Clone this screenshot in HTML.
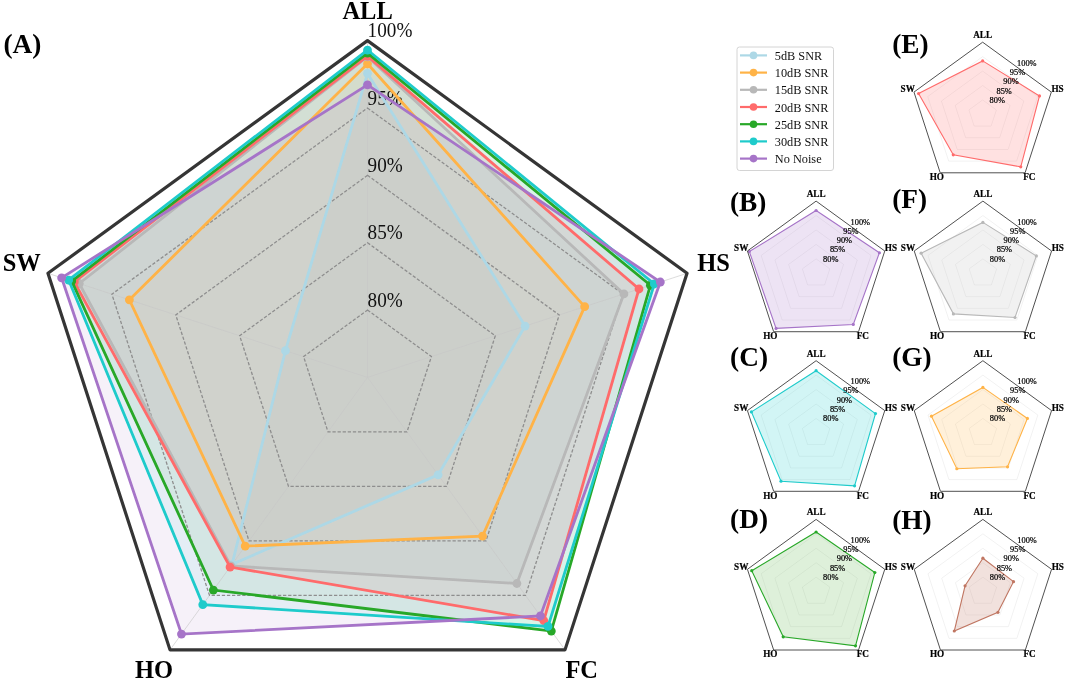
<!DOCTYPE html><html><head><meta charset="utf-8"><style>html,body{margin:0;padding:0;background:#fff;}body{width:1065px;height:681px;overflow:hidden;}svg{display:block;will-change:transform;}text{font-family:"Liberation Serif",serif;}</style></head><body>
<svg width="1065" height="681" viewBox="0 0 1065 681">
<polygon points="367.50,73.47 525.10,326.07 438.12,474.84 232.02,564.32 285.44,350.67" fill="#add8e6" fill-opacity="0.070" stroke="none"/>
<polygon points="367.50,63.77 584.67,306.67 482.52,536.09 245.21,546.12 129.37,299.84" fill="#ffb347" fill-opacity="0.070" stroke="none"/>
<polygon points="367.50,56.77 623.91,293.89 516.89,583.50 230.83,565.95 79.26,283.52" fill="#b8b8b8" fill-opacity="0.100" stroke="none"/>
<polygon points="367.50,56.09 638.99,288.98 543.75,620.56 230.04,567.04 74.28,281.90" fill="#ff6b6b" fill-opacity="0.120" stroke="none"/>
<polygon points="367.50,53.13 650.37,285.27 551.33,631.02 213.37,590.04 71.72,281.07" fill="#28a828" fill-opacity="0.095" stroke="none"/>
<polygon points="367.50,50.03 654.33,283.98 548.01,626.44 202.79,604.65 68.65,280.07" fill="#1ecbcb" fill-opacity="0.090" stroke="none"/>
<polygon points="367.50,84.92 660.34,282.02 540.43,615.98 181.46,634.07 61.62,277.78" fill="#a674c8" fill-opacity="0.100" stroke="none"/>
<line x1="367.50" y1="377.40" x2="367.50" y2="40.60" stroke="#c8c8c8" stroke-opacity="0.7" stroke-width="0.9"/>
<line x1="367.50" y1="377.40" x2="687.05" y2="273.32" stroke="#c8c8c8" stroke-opacity="0.7" stroke-width="0.9"/>
<line x1="367.50" y1="377.40" x2="565.00" y2="649.88" stroke="#c8c8c8" stroke-opacity="0.7" stroke-width="0.9"/>
<line x1="367.50" y1="377.40" x2="170.00" y2="649.88" stroke="#c8c8c8" stroke-opacity="0.7" stroke-width="0.9"/>
<line x1="367.50" y1="377.40" x2="47.95" y2="273.32" stroke="#c8c8c8" stroke-opacity="0.7" stroke-width="0.9"/>
<polygon points="367.50,310.04 431.41,356.58 407.00,431.90 328.00,431.90 303.59,356.58" fill="none" stroke="#8e8e8e" stroke-width="1.3" stroke-dasharray="3.3 1.8"/>
<polygon points="367.50,242.68 495.32,335.77 446.50,486.39 288.50,486.39 239.68,335.77" fill="none" stroke="#8e8e8e" stroke-width="1.3" stroke-dasharray="3.3 1.8"/>
<polygon points="367.50,175.32 559.23,314.95 486.00,540.89 249.00,540.89 175.77,314.95" fill="none" stroke="#8e8e8e" stroke-width="1.3" stroke-dasharray="3.3 1.8"/>
<polygon points="367.50,107.96 623.14,294.14 525.50,595.38 209.50,595.38 111.86,294.14" fill="none" stroke="#8e8e8e" stroke-width="1.3" stroke-dasharray="3.3 1.8"/>
<text transform="translate(367.60,306.64) scale(1,1.065)" font-size="19.20" text-anchor="start" fill="#111">80%</text>
<text transform="translate(367.60,239.28) scale(1,1.065)" font-size="19.20" text-anchor="start" fill="#111">85%</text>
<text transform="translate(367.60,171.92) scale(1,1.065)" font-size="19.20" text-anchor="start" fill="#111">90%</text>
<text transform="translate(367.60,104.56) scale(1,1.065)" font-size="19.20" text-anchor="start" fill="#111">95%</text>
<text transform="translate(367.60,37.20) scale(1,1.065)" font-size="19.20" text-anchor="start" fill="#111">100%</text>
<polygon points="367.50,73.47 525.10,326.07 438.12,474.84 232.02,564.32 285.44,350.67" fill="none" stroke="#add8e6" stroke-width="2.8" stroke-linejoin="miter"/>
<circle cx="367.50" cy="73.47" r="4.4" fill="#add8e6"/>
<circle cx="525.10" cy="326.07" r="4.4" fill="#add8e6"/>
<circle cx="438.12" cy="474.84" r="4.4" fill="#add8e6"/>
<circle cx="232.02" cy="564.32" r="4.4" fill="#add8e6"/>
<circle cx="285.44" cy="350.67" r="4.4" fill="#add8e6"/>
<polygon points="367.50,63.77 584.67,306.67 482.52,536.09 245.21,546.12 129.37,299.84" fill="none" stroke="#ffb347" stroke-width="2.8" stroke-linejoin="miter"/>
<circle cx="367.50" cy="63.77" r="4.4" fill="#ffb347"/>
<circle cx="584.67" cy="306.67" r="4.4" fill="#ffb347"/>
<circle cx="482.52" cy="536.09" r="4.4" fill="#ffb347"/>
<circle cx="245.21" cy="546.12" r="4.4" fill="#ffb347"/>
<circle cx="129.37" cy="299.84" r="4.4" fill="#ffb347"/>
<polygon points="367.50,56.77 623.91,293.89 516.89,583.50 230.83,565.95 79.26,283.52" fill="none" stroke="#b8b8b8" stroke-width="2.8" stroke-linejoin="miter"/>
<circle cx="367.50" cy="56.77" r="4.4" fill="#b8b8b8"/>
<circle cx="623.91" cy="293.89" r="4.4" fill="#b8b8b8"/>
<circle cx="516.89" cy="583.50" r="4.4" fill="#b8b8b8"/>
<circle cx="230.83" cy="565.95" r="4.4" fill="#b8b8b8"/>
<circle cx="79.26" cy="283.52" r="4.4" fill="#b8b8b8"/>
<polygon points="367.50,56.09 638.99,288.98 543.75,620.56 230.04,567.04 74.28,281.90" fill="none" stroke="#ff6b6b" stroke-width="2.8" stroke-linejoin="miter"/>
<circle cx="367.50" cy="56.09" r="4.4" fill="#ff6b6b"/>
<circle cx="638.99" cy="288.98" r="4.4" fill="#ff6b6b"/>
<circle cx="543.75" cy="620.56" r="4.4" fill="#ff6b6b"/>
<circle cx="230.04" cy="567.04" r="4.4" fill="#ff6b6b"/>
<circle cx="74.28" cy="281.90" r="4.4" fill="#ff6b6b"/>
<polygon points="367.50,53.13 650.37,285.27 551.33,631.02 213.37,590.04 71.72,281.07" fill="none" stroke="#28a828" stroke-width="2.8" stroke-linejoin="miter"/>
<circle cx="367.50" cy="53.13" r="4.4" fill="#28a828"/>
<circle cx="650.37" cy="285.27" r="4.4" fill="#28a828"/>
<circle cx="551.33" cy="631.02" r="4.4" fill="#28a828"/>
<circle cx="213.37" cy="590.04" r="4.4" fill="#28a828"/>
<circle cx="71.72" cy="281.07" r="4.4" fill="#28a828"/>
<polygon points="367.50,50.03 654.33,283.98 548.01,626.44 202.79,604.65 68.65,280.07" fill="none" stroke="#1ecbcb" stroke-width="2.8" stroke-linejoin="miter"/>
<circle cx="367.50" cy="50.03" r="4.4" fill="#1ecbcb"/>
<circle cx="654.33" cy="283.98" r="4.4" fill="#1ecbcb"/>
<circle cx="548.01" cy="626.44" r="4.4" fill="#1ecbcb"/>
<circle cx="202.79" cy="604.65" r="4.4" fill="#1ecbcb"/>
<circle cx="68.65" cy="280.07" r="4.4" fill="#1ecbcb"/>
<polygon points="367.50,84.92 660.34,282.02 540.43,615.98 181.46,634.07 61.62,277.78" fill="none" stroke="#a674c8" stroke-width="2.8" stroke-linejoin="miter"/>
<circle cx="367.50" cy="84.92" r="4.4" fill="#a674c8"/>
<circle cx="660.34" cy="282.02" r="4.4" fill="#a674c8"/>
<circle cx="540.43" cy="615.98" r="4.4" fill="#a674c8"/>
<circle cx="181.46" cy="634.07" r="4.4" fill="#a674c8"/>
<circle cx="61.62" cy="277.78" r="4.4" fill="#a674c8"/>
<polygon points="367.50,40.60 687.05,273.32 565.00,649.88 170.00,649.88 47.95,273.32" fill="none" stroke="#353535" stroke-width="3.2" stroke-linejoin="round"/>
<text transform="translate(367.60,18.90) scale(1,1.065)" font-size="24.50" font-weight="bold" text-anchor="middle" fill="#000">ALL</text>
<text transform="translate(713.60,270.60) scale(1,1.065)" font-size="24.50" font-weight="bold" text-anchor="middle" fill="#000">HS</text>
<text transform="translate(581.70,678.00) scale(1,1.065)" font-size="24.50" font-weight="bold" text-anchor="middle" fill="#000">FC</text>
<text transform="translate(154.10,677.80) scale(1,1.065)" font-size="24.50" font-weight="bold" text-anchor="middle" fill="#000">HO</text>
<text transform="translate(21.80,270.60) scale(1,1.065)" font-size="24.50" font-weight="bold" text-anchor="middle" fill="#000">SW</text>
<text transform="translate(3.50,53.20) scale(1,1.000)" font-size="27.30" font-weight="bold" text-anchor="start" fill="#000">(A)</text>
<rect x="737" y="47" width="96.5" height="123.5" rx="2.5" ry="2.5" fill="#fff" stroke="#d4d4d4" stroke-width="1"/>
<line x1="740" y1="55.40" x2="767" y2="55.40" stroke="#add8e6" stroke-width="2.2"/>
<circle cx="753.5" cy="55.40" r="3.8" fill="#add8e6"/>
<text transform="translate(774.80,60.05) scale(1,1.000)" font-size="12.30" text-anchor="start" fill="#111">5dB SNR</text>
<line x1="740" y1="72.60" x2="767" y2="72.60" stroke="#ffb347" stroke-width="2.2"/>
<circle cx="753.5" cy="72.60" r="3.8" fill="#ffb347"/>
<text transform="translate(774.80,77.25) scale(1,1.000)" font-size="12.30" text-anchor="start" fill="#111">10dB SNR</text>
<line x1="740" y1="89.80" x2="767" y2="89.80" stroke="#b8b8b8" stroke-width="2.2"/>
<circle cx="753.5" cy="89.80" r="3.8" fill="#b8b8b8"/>
<text transform="translate(774.80,94.45) scale(1,1.000)" font-size="12.30" text-anchor="start" fill="#111">15dB SNR</text>
<line x1="740" y1="107.00" x2="767" y2="107.00" stroke="#ff6b6b" stroke-width="2.2"/>
<circle cx="753.5" cy="107.00" r="3.8" fill="#ff6b6b"/>
<text transform="translate(774.80,111.65) scale(1,1.000)" font-size="12.30" text-anchor="start" fill="#111">20dB SNR</text>
<line x1="740" y1="124.20" x2="767" y2="124.20" stroke="#28a828" stroke-width="2.2"/>
<circle cx="753.5" cy="124.20" r="3.8" fill="#28a828"/>
<text transform="translate(774.80,128.85) scale(1,1.000)" font-size="12.30" text-anchor="start" fill="#111">25dB SNR</text>
<line x1="740" y1="141.40" x2="767" y2="141.40" stroke="#1ecbcb" stroke-width="2.2"/>
<circle cx="753.5" cy="141.40" r="3.8" fill="#1ecbcb"/>
<text transform="translate(774.80,146.05) scale(1,1.000)" font-size="12.30" text-anchor="start" fill="#111">30dB SNR</text>
<line x1="740" y1="158.60" x2="767" y2="158.60" stroke="#a674c8" stroke-width="2.2"/>
<circle cx="753.5" cy="158.60" r="3.8" fill="#a674c8"/>
<text transform="translate(774.80,163.25) scale(1,1.000)" font-size="12.30" text-anchor="start" fill="#111">No Noise</text>
<polygon points="982.65,99.96 996.38,109.94 991.14,126.08 974.16,126.08 968.92,109.94" fill="none" stroke="#000" stroke-opacity="0.07" stroke-width="0.8"/>
<polygon points="982.65,85.52 1010.12,105.48 999.63,137.76 965.67,137.76 955.18,105.48" fill="none" stroke="#000" stroke-opacity="0.07" stroke-width="0.8"/>
<polygon points="982.65,71.08 1023.85,101.01 1008.11,149.45 957.19,149.45 941.45,101.01" fill="none" stroke="#000" stroke-opacity="0.07" stroke-width="0.8"/>
<polygon points="982.65,56.64 1037.58,96.55 1016.60,161.13 948.70,161.13 927.72,96.55" fill="none" stroke="#000" stroke-opacity="0.07" stroke-width="0.8"/>
<polygon points="982.65,60.90 1039.47,95.94 1020.76,166.86 953.26,154.85 918.58,93.58" fill="#ff6b6b" fill-opacity="0.20" stroke="#ff6b6b" stroke-width="1.1"/>
<circle cx="982.65" cy="60.90" r="1.6" fill="#ff6b6b"/>
<circle cx="1039.47" cy="95.94" r="1.6" fill="#ff6b6b"/>
<circle cx="1020.76" cy="166.86" r="1.6" fill="#ff6b6b"/>
<circle cx="953.26" cy="154.85" r="1.6" fill="#ff6b6b"/>
<circle cx="918.58" cy="93.58" r="1.6" fill="#ff6b6b"/>
<polygon points="982.65,42.20 1051.32,92.09 1025.09,172.81 940.21,172.81 913.98,92.09" fill="none" stroke="#505050" stroke-width="1"/>
<text transform="translate(1017.05,65.70) scale(1,1.065)" font-size="8.40" text-anchor="start" fill="#000" stroke="#000" stroke-width="0.22">100%</text>
<text transform="translate(1009.75,74.80) scale(1,1.065)" font-size="8.40" text-anchor="start" fill="#000" stroke="#000" stroke-width="0.22">95%</text>
<text transform="translate(1003.25,84.20) scale(1,1.065)" font-size="8.40" text-anchor="start" fill="#000" stroke="#000" stroke-width="0.22">90%</text>
<text transform="translate(996.45,93.50) scale(1,1.065)" font-size="8.40" text-anchor="start" fill="#000" stroke="#000" stroke-width="0.22">85%</text>
<text transform="translate(989.55,102.60) scale(1,1.065)" font-size="8.40" text-anchor="start" fill="#000" stroke="#000" stroke-width="0.22">80%</text>
<text transform="translate(982.65,38.20) scale(1,1.065)" font-size="9.20" font-weight="bold" text-anchor="middle" fill="#000" stroke="#000" stroke-width="0.20">ALL</text>
<text transform="translate(1057.55,92.30) scale(1,1.065)" font-size="9.20" font-weight="bold" text-anchor="middle" fill="#000" stroke="#000" stroke-width="0.20">HS</text>
<text transform="translate(1029.35,180.20) scale(1,1.065)" font-size="9.20" font-weight="bold" text-anchor="middle" fill="#000" stroke="#000" stroke-width="0.20">FC</text>
<text transform="translate(936.85,180.20) scale(1,1.065)" font-size="9.20" font-weight="bold" text-anchor="middle" fill="#000" stroke="#000" stroke-width="0.20">HO</text>
<text transform="translate(907.75,92.30) scale(1,1.065)" font-size="9.20" font-weight="bold" text-anchor="middle" fill="#000" stroke="#000" stroke-width="0.20">SW</text>
<text transform="translate(892.20,52.50) scale(1,1.000)" font-size="27.30" font-weight="bold" text-anchor="start" fill="#000">(E)</text>
<polygon points="816.10,258.86 829.83,268.84 824.59,284.98 807.61,284.98 802.37,268.84" fill="none" stroke="#000" stroke-opacity="0.07" stroke-width="0.8"/>
<polygon points="816.10,244.42 843.57,264.38 833.08,296.66 799.12,296.66 788.63,264.38" fill="none" stroke="#000" stroke-opacity="0.07" stroke-width="0.8"/>
<polygon points="816.10,229.98 857.30,259.91 841.56,308.35 790.64,308.35 774.90,259.91" fill="none" stroke="#000" stroke-opacity="0.07" stroke-width="0.8"/>
<polygon points="816.10,215.54 871.03,255.45 850.05,320.03 782.15,320.03 761.17,255.45" fill="none" stroke="#000" stroke-opacity="0.07" stroke-width="0.8"/>
<polygon points="816.10,210.50 879.41,252.73 853.27,324.46 776.07,328.40 749.34,251.61" fill="#a674c8" fill-opacity="0.20" stroke="#a674c8" stroke-width="1.1"/>
<circle cx="816.10" cy="210.50" r="1.6" fill="#a674c8"/>
<circle cx="879.41" cy="252.73" r="1.6" fill="#a674c8"/>
<circle cx="853.27" cy="324.46" r="1.6" fill="#a674c8"/>
<circle cx="776.07" cy="328.40" r="1.6" fill="#a674c8"/>
<circle cx="749.34" cy="251.61" r="1.6" fill="#a674c8"/>
<polygon points="816.10,201.10 884.77,250.99 858.54,331.71 773.66,331.71 747.43,250.99" fill="none" stroke="#505050" stroke-width="1"/>
<text transform="translate(850.50,224.60) scale(1,1.065)" font-size="8.40" text-anchor="start" fill="#000" stroke="#000" stroke-width="0.22">100%</text>
<text transform="translate(843.20,233.70) scale(1,1.065)" font-size="8.40" text-anchor="start" fill="#000" stroke="#000" stroke-width="0.22">95%</text>
<text transform="translate(836.70,243.10) scale(1,1.065)" font-size="8.40" text-anchor="start" fill="#000" stroke="#000" stroke-width="0.22">90%</text>
<text transform="translate(829.90,252.40) scale(1,1.065)" font-size="8.40" text-anchor="start" fill="#000" stroke="#000" stroke-width="0.22">85%</text>
<text transform="translate(823.00,261.50) scale(1,1.065)" font-size="8.40" text-anchor="start" fill="#000" stroke="#000" stroke-width="0.22">80%</text>
<text transform="translate(816.10,197.10) scale(1,1.065)" font-size="9.20" font-weight="bold" text-anchor="middle" fill="#000" stroke="#000" stroke-width="0.20">ALL</text>
<text transform="translate(891.00,251.20) scale(1,1.065)" font-size="9.20" font-weight="bold" text-anchor="middle" fill="#000" stroke="#000" stroke-width="0.20">HS</text>
<text transform="translate(862.80,339.10) scale(1,1.065)" font-size="9.20" font-weight="bold" text-anchor="middle" fill="#000" stroke="#000" stroke-width="0.20">FC</text>
<text transform="translate(770.30,339.10) scale(1,1.065)" font-size="9.20" font-weight="bold" text-anchor="middle" fill="#000" stroke="#000" stroke-width="0.20">HO</text>
<text transform="translate(741.20,251.20) scale(1,1.065)" font-size="9.20" font-weight="bold" text-anchor="middle" fill="#000" stroke="#000" stroke-width="0.20">SW</text>
<text transform="translate(729.90,210.80) scale(1,1.000)" font-size="27.30" font-weight="bold" text-anchor="start" fill="#000">(B)</text>
<polygon points="982.90,258.86 996.63,268.84 991.39,284.98 974.41,284.98 969.17,268.84" fill="none" stroke="#000" stroke-opacity="0.07" stroke-width="0.8"/>
<polygon points="982.90,244.42 1010.37,264.38 999.88,296.66 965.92,296.66 955.43,264.38" fill="none" stroke="#000" stroke-opacity="0.07" stroke-width="0.8"/>
<polygon points="982.90,229.98 1024.10,259.91 1008.36,308.35 957.44,308.35 941.70,259.91" fill="none" stroke="#000" stroke-opacity="0.07" stroke-width="0.8"/>
<polygon points="982.90,215.54 1037.83,255.45 1016.85,320.03 948.95,320.03 927.97,255.45" fill="none" stroke="#000" stroke-opacity="0.07" stroke-width="0.8"/>
<polygon points="982.90,222.40 1036.34,255.94 1015.02,317.51 953.42,313.88 921.10,253.22" fill="#b8b8b8" fill-opacity="0.20" stroke="#b8b8b8" stroke-width="1.1"/>
<circle cx="982.90" cy="222.40" r="1.6" fill="#b8b8b8"/>
<circle cx="1036.34" cy="255.94" r="1.6" fill="#b8b8b8"/>
<circle cx="1015.02" cy="317.51" r="1.6" fill="#b8b8b8"/>
<circle cx="953.42" cy="313.88" r="1.6" fill="#b8b8b8"/>
<circle cx="921.10" cy="253.22" r="1.6" fill="#b8b8b8"/>
<polygon points="982.90,201.10 1051.57,250.99 1025.34,331.71 940.46,331.71 914.23,250.99" fill="none" stroke="#505050" stroke-width="1"/>
<text transform="translate(1017.30,224.60) scale(1,1.065)" font-size="8.40" text-anchor="start" fill="#000" stroke="#000" stroke-width="0.22">100%</text>
<text transform="translate(1010.00,233.70) scale(1,1.065)" font-size="8.40" text-anchor="start" fill="#000" stroke="#000" stroke-width="0.22">95%</text>
<text transform="translate(1003.50,243.10) scale(1,1.065)" font-size="8.40" text-anchor="start" fill="#000" stroke="#000" stroke-width="0.22">90%</text>
<text transform="translate(996.70,252.40) scale(1,1.065)" font-size="8.40" text-anchor="start" fill="#000" stroke="#000" stroke-width="0.22">85%</text>
<text transform="translate(989.80,261.50) scale(1,1.065)" font-size="8.40" text-anchor="start" fill="#000" stroke="#000" stroke-width="0.22">80%</text>
<text transform="translate(982.90,197.10) scale(1,1.065)" font-size="9.20" font-weight="bold" text-anchor="middle" fill="#000" stroke="#000" stroke-width="0.20">ALL</text>
<text transform="translate(1057.80,251.20) scale(1,1.065)" font-size="9.20" font-weight="bold" text-anchor="middle" fill="#000" stroke="#000" stroke-width="0.20">HS</text>
<text transform="translate(1029.60,339.10) scale(1,1.065)" font-size="9.20" font-weight="bold" text-anchor="middle" fill="#000" stroke="#000" stroke-width="0.20">FC</text>
<text transform="translate(937.10,339.10) scale(1,1.065)" font-size="9.20" font-weight="bold" text-anchor="middle" fill="#000" stroke="#000" stroke-width="0.20">HO</text>
<text transform="translate(908.00,251.20) scale(1,1.065)" font-size="9.20" font-weight="bold" text-anchor="middle" fill="#000" stroke="#000" stroke-width="0.20">SW</text>
<text transform="translate(892.20,207.70) scale(1,1.000)" font-size="27.30" font-weight="bold" text-anchor="start" fill="#000">(F)</text>
<polygon points="816.10,418.46 829.83,428.44 824.59,444.58 807.61,444.58 802.37,428.44" fill="none" stroke="#000" stroke-opacity="0.07" stroke-width="0.8"/>
<polygon points="816.10,404.02 843.57,423.98 833.08,456.26 799.12,456.26 788.63,423.98" fill="none" stroke="#000" stroke-opacity="0.07" stroke-width="0.8"/>
<polygon points="816.10,389.58 857.30,419.51 841.56,467.95 790.64,467.95 774.90,419.51" fill="none" stroke="#000" stroke-opacity="0.07" stroke-width="0.8"/>
<polygon points="816.10,375.14 871.03,415.05 850.05,479.63 782.15,479.63 761.17,415.05" fill="none" stroke="#000" stroke-opacity="0.07" stroke-width="0.8"/>
<polygon points="816.10,370.70 875.47,413.61 854.56,485.84 781.00,481.22 751.44,411.89" fill="#1ecbcb" fill-opacity="0.20" stroke="#1ecbcb" stroke-width="1.1"/>
<circle cx="816.10" cy="370.70" r="1.6" fill="#1ecbcb"/>
<circle cx="875.47" cy="413.61" r="1.6" fill="#1ecbcb"/>
<circle cx="854.56" cy="485.84" r="1.6" fill="#1ecbcb"/>
<circle cx="781.00" cy="481.22" r="1.6" fill="#1ecbcb"/>
<circle cx="751.44" cy="411.89" r="1.6" fill="#1ecbcb"/>
<polygon points="816.10,360.70 884.77,410.59 858.54,491.31 773.66,491.31 747.43,410.59" fill="none" stroke="#505050" stroke-width="1"/>
<text transform="translate(850.50,384.20) scale(1,1.065)" font-size="8.40" text-anchor="start" fill="#000" stroke="#000" stroke-width="0.22">100%</text>
<text transform="translate(843.20,393.30) scale(1,1.065)" font-size="8.40" text-anchor="start" fill="#000" stroke="#000" stroke-width="0.22">95%</text>
<text transform="translate(836.70,402.70) scale(1,1.065)" font-size="8.40" text-anchor="start" fill="#000" stroke="#000" stroke-width="0.22">90%</text>
<text transform="translate(829.90,412.00) scale(1,1.065)" font-size="8.40" text-anchor="start" fill="#000" stroke="#000" stroke-width="0.22">85%</text>
<text transform="translate(823.00,421.10) scale(1,1.065)" font-size="8.40" text-anchor="start" fill="#000" stroke="#000" stroke-width="0.22">80%</text>
<text transform="translate(816.10,356.70) scale(1,1.065)" font-size="9.20" font-weight="bold" text-anchor="middle" fill="#000" stroke="#000" stroke-width="0.20">ALL</text>
<text transform="translate(891.00,410.80) scale(1,1.065)" font-size="9.20" font-weight="bold" text-anchor="middle" fill="#000" stroke="#000" stroke-width="0.20">HS</text>
<text transform="translate(862.80,498.70) scale(1,1.065)" font-size="9.20" font-weight="bold" text-anchor="middle" fill="#000" stroke="#000" stroke-width="0.20">FC</text>
<text transform="translate(770.30,498.70) scale(1,1.065)" font-size="9.20" font-weight="bold" text-anchor="middle" fill="#000" stroke="#000" stroke-width="0.20">HO</text>
<text transform="translate(741.20,410.80) scale(1,1.065)" font-size="9.20" font-weight="bold" text-anchor="middle" fill="#000" stroke="#000" stroke-width="0.20">SW</text>
<text transform="translate(730.10,366.40) scale(1,1.000)" font-size="27.30" font-weight="bold" text-anchor="start" fill="#000">(C)</text>
<polygon points="982.90,418.46 996.63,428.44 991.39,444.58 974.41,444.58 969.17,428.44" fill="none" stroke="#000" stroke-opacity="0.07" stroke-width="0.8"/>
<polygon points="982.90,404.02 1010.37,423.98 999.88,456.26 965.92,456.26 955.43,423.98" fill="none" stroke="#000" stroke-opacity="0.07" stroke-width="0.8"/>
<polygon points="982.90,389.58 1024.10,419.51 1008.36,467.95 957.44,467.95 941.70,419.51" fill="none" stroke="#000" stroke-opacity="0.07" stroke-width="0.8"/>
<polygon points="982.90,375.14 1037.83,415.05 1016.85,479.63 948.95,479.63 927.97,415.05" fill="none" stroke="#000" stroke-opacity="0.07" stroke-width="0.8"/>
<polygon points="982.90,387.40 1027.41,418.44 1007.53,466.80 956.84,468.77 931.45,416.18" fill="#ffb347" fill-opacity="0.20" stroke="#ffb347" stroke-width="1.1"/>
<circle cx="982.90" cy="387.40" r="1.6" fill="#ffb347"/>
<circle cx="1027.41" cy="418.44" r="1.6" fill="#ffb347"/>
<circle cx="1007.53" cy="466.80" r="1.6" fill="#ffb347"/>
<circle cx="956.84" cy="468.77" r="1.6" fill="#ffb347"/>
<circle cx="931.45" cy="416.18" r="1.6" fill="#ffb347"/>
<polygon points="982.90,360.70 1051.57,410.59 1025.34,491.31 940.46,491.31 914.23,410.59" fill="none" stroke="#505050" stroke-width="1"/>
<text transform="translate(1017.30,384.20) scale(1,1.065)" font-size="8.40" text-anchor="start" fill="#000" stroke="#000" stroke-width="0.22">100%</text>
<text transform="translate(1010.00,393.30) scale(1,1.065)" font-size="8.40" text-anchor="start" fill="#000" stroke="#000" stroke-width="0.22">95%</text>
<text transform="translate(1003.50,402.70) scale(1,1.065)" font-size="8.40" text-anchor="start" fill="#000" stroke="#000" stroke-width="0.22">90%</text>
<text transform="translate(996.70,412.00) scale(1,1.065)" font-size="8.40" text-anchor="start" fill="#000" stroke="#000" stroke-width="0.22">85%</text>
<text transform="translate(989.80,421.10) scale(1,1.065)" font-size="8.40" text-anchor="start" fill="#000" stroke="#000" stroke-width="0.22">80%</text>
<text transform="translate(982.90,356.70) scale(1,1.065)" font-size="9.20" font-weight="bold" text-anchor="middle" fill="#000" stroke="#000" stroke-width="0.20">ALL</text>
<text transform="translate(1057.80,410.80) scale(1,1.065)" font-size="9.20" font-weight="bold" text-anchor="middle" fill="#000" stroke="#000" stroke-width="0.20">HS</text>
<text transform="translate(1029.60,498.70) scale(1,1.065)" font-size="9.20" font-weight="bold" text-anchor="middle" fill="#000" stroke="#000" stroke-width="0.20">FC</text>
<text transform="translate(937.10,498.70) scale(1,1.065)" font-size="9.20" font-weight="bold" text-anchor="middle" fill="#000" stroke="#000" stroke-width="0.20">HO</text>
<text transform="translate(908.00,410.80) scale(1,1.065)" font-size="9.20" font-weight="bold" text-anchor="middle" fill="#000" stroke="#000" stroke-width="0.20">SW</text>
<text transform="translate(892.20,366.40) scale(1,1.000)" font-size="27.30" font-weight="bold" text-anchor="start" fill="#000">(G)</text>
<polygon points="816.10,577.16 829.83,587.14 824.59,603.28 807.61,603.28 802.37,587.14" fill="none" stroke="#000" stroke-opacity="0.07" stroke-width="0.8"/>
<polygon points="816.10,562.72 843.57,582.68 833.08,614.96 799.12,614.96 788.63,582.68" fill="none" stroke="#000" stroke-opacity="0.07" stroke-width="0.8"/>
<polygon points="816.10,548.28 857.30,578.21 841.56,626.65 790.64,626.65 774.90,578.21" fill="none" stroke="#000" stroke-opacity="0.07" stroke-width="0.8"/>
<polygon points="816.10,533.84 871.03,573.75 850.05,638.33 782.15,638.33 761.17,573.75" fill="none" stroke="#000" stroke-opacity="0.07" stroke-width="0.8"/>
<polygon points="816.10,532.00 874.84,572.52 855.52,645.85 783.24,636.83 751.74,570.69" fill="#52b03c" fill-opacity="0.19" stroke="#28a828" stroke-width="1.1"/>
<circle cx="816.10" cy="532.00" r="1.6" fill="#28a828"/>
<circle cx="874.84" cy="572.52" r="1.6" fill="#28a828"/>
<circle cx="855.52" cy="645.85" r="1.6" fill="#28a828"/>
<circle cx="783.24" cy="636.83" r="1.6" fill="#28a828"/>
<circle cx="751.74" cy="570.69" r="1.6" fill="#28a828"/>
<polygon points="816.10,519.40 884.77,569.29 858.54,650.01 773.66,650.01 747.43,569.29" fill="none" stroke="#505050" stroke-width="1"/>
<text transform="translate(850.50,542.90) scale(1,1.065)" font-size="8.40" text-anchor="start" fill="#000" stroke="#000" stroke-width="0.22">100%</text>
<text transform="translate(843.20,552.00) scale(1,1.065)" font-size="8.40" text-anchor="start" fill="#000" stroke="#000" stroke-width="0.22">95%</text>
<text transform="translate(836.70,561.40) scale(1,1.065)" font-size="8.40" text-anchor="start" fill="#000" stroke="#000" stroke-width="0.22">90%</text>
<text transform="translate(829.90,570.70) scale(1,1.065)" font-size="8.40" text-anchor="start" fill="#000" stroke="#000" stroke-width="0.22">85%</text>
<text transform="translate(823.00,579.80) scale(1,1.065)" font-size="8.40" text-anchor="start" fill="#000" stroke="#000" stroke-width="0.22">80%</text>
<text transform="translate(816.10,515.40) scale(1,1.065)" font-size="9.20" font-weight="bold" text-anchor="middle" fill="#000" stroke="#000" stroke-width="0.20">ALL</text>
<text transform="translate(891.00,569.50) scale(1,1.065)" font-size="9.20" font-weight="bold" text-anchor="middle" fill="#000" stroke="#000" stroke-width="0.20">HS</text>
<text transform="translate(862.80,657.40) scale(1,1.065)" font-size="9.20" font-weight="bold" text-anchor="middle" fill="#000" stroke="#000" stroke-width="0.20">FC</text>
<text transform="translate(770.30,657.40) scale(1,1.065)" font-size="9.20" font-weight="bold" text-anchor="middle" fill="#000" stroke="#000" stroke-width="0.20">HO</text>
<text transform="translate(741.20,569.50) scale(1,1.065)" font-size="9.20" font-weight="bold" text-anchor="middle" fill="#000" stroke="#000" stroke-width="0.20">SW</text>
<text transform="translate(730.10,528.30) scale(1,1.000)" font-size="27.30" font-weight="bold" text-anchor="start" fill="#000">(D)</text>
<polygon points="982.90,577.16 996.63,587.14 991.39,603.28 974.41,603.28 969.17,587.14" fill="none" stroke="#000" stroke-opacity="0.07" stroke-width="0.8"/>
<polygon points="982.90,562.72 1010.37,582.68 999.88,614.96 965.92,614.96 955.43,582.68" fill="none" stroke="#000" stroke-opacity="0.07" stroke-width="0.8"/>
<polygon points="982.90,548.28 1024.10,578.21 1008.36,626.65 957.44,626.65 941.70,578.21" fill="none" stroke="#000" stroke-opacity="0.07" stroke-width="0.8"/>
<polygon points="982.90,533.84 1037.83,573.75 1016.85,638.33 948.95,638.33 927.97,573.75" fill="none" stroke="#000" stroke-opacity="0.07" stroke-width="0.8"/>
<polygon points="982.90,558.20 1013.49,581.66 997.93,612.29 954.27,631.00 965.07,585.81" fill="#c07662" fill-opacity="0.22" stroke="#c07662" stroke-width="1.1"/>
<circle cx="982.90" cy="558.20" r="1.6" fill="#c07662"/>
<circle cx="1013.49" cy="581.66" r="1.6" fill="#c07662"/>
<circle cx="997.93" cy="612.29" r="1.6" fill="#c07662"/>
<circle cx="954.27" cy="631.00" r="1.6" fill="#c07662"/>
<circle cx="965.07" cy="585.81" r="1.6" fill="#c07662"/>
<polygon points="982.90,519.40 1051.57,569.29 1025.34,650.01 940.46,650.01 914.23,569.29" fill="none" stroke="#505050" stroke-width="1"/>
<text transform="translate(1017.30,542.90) scale(1,1.065)" font-size="8.40" text-anchor="start" fill="#000" stroke="#000" stroke-width="0.22">100%</text>
<text transform="translate(1010.00,552.00) scale(1,1.065)" font-size="8.40" text-anchor="start" fill="#000" stroke="#000" stroke-width="0.22">95%</text>
<text transform="translate(1003.50,561.40) scale(1,1.065)" font-size="8.40" text-anchor="start" fill="#000" stroke="#000" stroke-width="0.22">90%</text>
<text transform="translate(996.70,570.70) scale(1,1.065)" font-size="8.40" text-anchor="start" fill="#000" stroke="#000" stroke-width="0.22">85%</text>
<text transform="translate(989.80,579.80) scale(1,1.065)" font-size="8.40" text-anchor="start" fill="#000" stroke="#000" stroke-width="0.22">80%</text>
<text transform="translate(982.90,515.40) scale(1,1.065)" font-size="9.20" font-weight="bold" text-anchor="middle" fill="#000" stroke="#000" stroke-width="0.20">ALL</text>
<text transform="translate(1057.80,569.50) scale(1,1.065)" font-size="9.20" font-weight="bold" text-anchor="middle" fill="#000" stroke="#000" stroke-width="0.20">HS</text>
<text transform="translate(1029.60,657.40) scale(1,1.065)" font-size="9.20" font-weight="bold" text-anchor="middle" fill="#000" stroke="#000" stroke-width="0.20">FC</text>
<text transform="translate(937.10,657.40) scale(1,1.065)" font-size="9.20" font-weight="bold" text-anchor="middle" fill="#000" stroke="#000" stroke-width="0.20">HO</text>
<text transform="translate(908.00,569.50) scale(1,1.065)" font-size="9.20" font-weight="bold" text-anchor="middle" fill="#000" stroke="#000" stroke-width="0.20">SW</text>
<text transform="translate(892.20,528.50) scale(1,1.000)" font-size="27.30" font-weight="bold" text-anchor="start" fill="#000">(H)</text>
</svg></body></html>
